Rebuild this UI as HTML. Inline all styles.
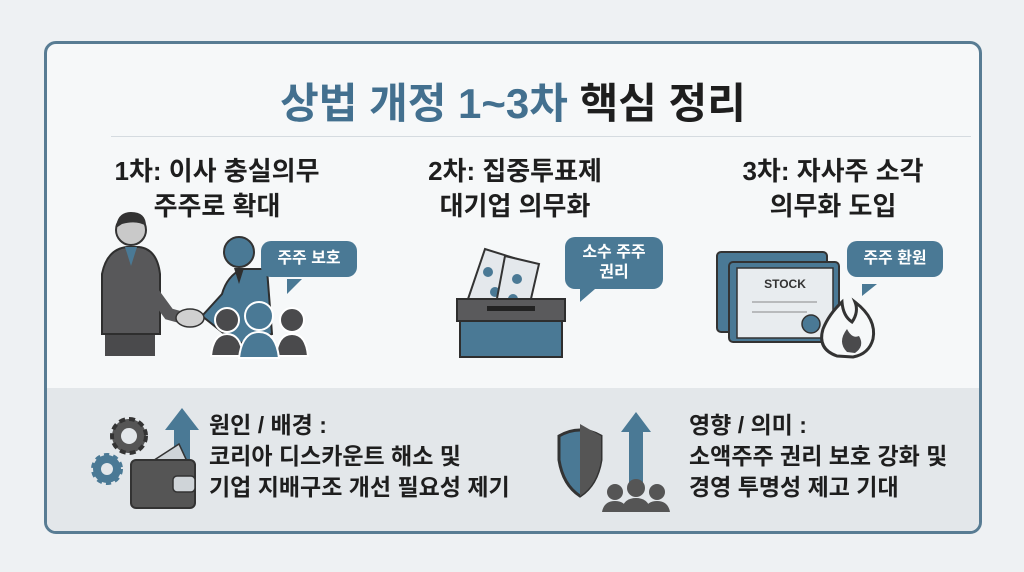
<!DOCTYPE html>
<html><head><meta charset="utf-8"><style>
body{margin:0;width:1024px;height:572px;background:#eef1f3;font-family:"Liberation Sans","Noto Sans CJK KR",sans-serif;position:relative;overflow:hidden}
.card{position:absolute;left:44px;top:41px;width:932px;height:487px;border:3px solid #587c93;border-radius:12px;background:#f6f8f9;overflow:hidden}
.t{position:absolute;font-weight:bold;color:#1e1e1e;text-align:center;white-space:nowrap}
.bot{position:absolute;left:0;top:344px;width:932px;height:143px;background:#e3e7ea}
.bub{position:absolute;background:#4a7995;color:#fff;font-weight:bold;font-size:16px;border-radius:10px;text-align:center;line-height:20px;padding:8px 0}
</style></head><body>
<div class="card">
<div class="t" style="left:0;width:932px;top:26px;font-size:42px;"><span style="color:#43708f">상법 개정 1~3차</span> 핵심 정리</div>
<div style="position:absolute;left:64px;top:92px;width:860px;height:1px;background:#d5dbe0"></div>
<div class="t" style="left:20px;width:300px;top:110px;font-size:26px;line-height:35px">1차: 이사 충실의무<br>주주로 확대</div>
<div class="t" style="left:318px;width:300px;top:110px;font-size:26px;line-height:35px">2차: 집중투표제<br>대기업 의무화</div>
<div class="t" style="left:636px;width:300px;top:110px;font-size:26px;line-height:35px">3차: 자사주 소각<br>의무화 도입</div>

<svg style="position:absolute;left:0;top:0" width="932" height="344">
<g>
<rect x="58" y="232" width="50" height="80" fill="#4a4a4c"/>
<path d="M55 230 Q60 205 80 203 L92 203 Q110 205 113 230 L113 290 L55 290Z" fill="#58585a" stroke="#2e2e2e" stroke-width="2"/>
<path d="M78 203 L84 222 L90 203Z" fill="#4a7995"/>
<circle cx="84" cy="186" r="15" fill="#c9c9c9" stroke="#333" stroke-width="2"/>
<path d="M69 184 Q70 168 84 168 Q99 168 99 182 Q90 176 75 180Z" fill="#333"/>
<path d="M100 240 L122 270 L140 275" stroke="#58585a" stroke-width="12" fill="none"/>
<path d="M155 272 L175 250 Q180 232 195 225 L220 225 L225 290 L190 300Z" fill="#4a7995" stroke="#2e2e2e" stroke-width="2"/>
<circle cx="192" cy="208" r="15" fill="#4a7995" stroke="#333" stroke-width="2"/>
<path d="M187 224 L192 240 L197 224Z" fill="#2e2e2e"/>
<ellipse cx="143" cy="274" rx="14" ry="9" fill="#d0d0d0" stroke="#333" stroke-width="1.5"/>
<circle cx="180" cy="276" r="12" fill="#4a4a4c" stroke="#fff" stroke-width="2"/>
<path d="M164 312 Q166 290 180 290 Q194 290 196 312Z" fill="#4a4a4c" stroke="#fff" stroke-width="2"/>
<circle cx="245" cy="276" r="12" fill="#4a4a4c" stroke="#fff" stroke-width="2"/>
<path d="M229 312 Q231 290 245 290 Q259 290 261 312Z" fill="#4a4a4c" stroke="#fff" stroke-width="2"/>
<circle cx="212" cy="272" r="14" fill="#4a7995" stroke="#fff" stroke-width="2"/>
<path d="M192 314 Q195 288 212 288 Q229 288 232 314Z" fill="#4a7995" stroke="#fff" stroke-width="2"/>
<path d="M240 235 L240 250 L255 235Z" fill="#4a7995"/>
</g>
<g>
<path d="M420 258 L438 205 L470 215 L452 268Z" fill="#e4e8ec" stroke="#333" stroke-width="2"/>
<circle cx="441" cy="228" r="5" fill="#4a7995"/><circle cx="448" cy="248" r="5" fill="#4a7995"/>
<path d="M448 265 L458 212 L492 220 L480 272Z" fill="#e4e8ec" stroke="#333" stroke-width="2"/>
<circle cx="470" cy="235" r="5" fill="#4a7995"/><circle cx="466" cy="255" r="5" fill="#4a7995"/>
<rect x="410" y="255" width="108" height="22" fill="#5a5a5c" stroke="#2e2e2e" stroke-width="2"/>
<rect x="440" y="262" width="48" height="5" fill="#222"/>
<rect x="413" y="277" width="102" height="36" fill="#4a7995" stroke="#2e2e2e" stroke-width="2"/>
<path d="M533 245 L533 258 L548 245Z" fill="#4a7995"/>
</g>
<g>
<rect x="670" y="208" width="110" height="80" rx="4" fill="#4a7995" stroke="#333" stroke-width="2"/>
<rect x="682" y="218" width="110" height="80" rx="4" fill="#4a7995" stroke="#333" stroke-width="2"/>
<rect x="690" y="224" width="96" height="70" fill="#e8ecef" stroke="#333" stroke-width="1.5"/>
<text x="738" y="244" font-size="12" font-weight="bold" text-anchor="middle" fill="#333" font-family="Liberation Sans">STOCK</text>
<line x1="705" y1="258" x2="770" y2="258" stroke="#888"/><line x1="705" y1="268" x2="760" y2="268" stroke="#888"/>
<circle cx="764" cy="280" r="9" fill="#4a7995" stroke="#333" stroke-width="1.5"/>
<path d="M790 312 Q770 305 776 285 Q782 270 795 258 Q796 272 805 278 Q812 268 808 258 Q830 275 826 295 Q822 310 806 313Z" fill="#f6f8f9" stroke="#333" stroke-width="3"/>
<path d="M800 308 Q790 298 800 285 Q805 295 812 292 Q818 302 808 309Z" fill="#4a4a4c"/>
<path d="M815 240 L815 252 L830 240Z" fill="#4a7995"/>
</g>
</svg>
<div class="bub" style="left:214px;top:197px;width:96px">주주 보호</div>
<div class="bub" style="left:518px;top:193px;width:98px;padding:6px 0">소수 주주<br>권리</div>
<div class="bub" style="left:800px;top:197px;width:96px">주주 환원</div>

<div class="bot">
<svg style="position:absolute;left:0;top:0" width="932" height="143">
<circle cx="82" cy="48" r="17" fill="#555" stroke="#333" stroke-width="4" stroke-dasharray="6 4"/><circle cx="82" cy="48" r="8" fill="#e3e7ea"/>
<circle cx="60" cy="81" r="14" fill="#4a7995" stroke="#4a7995" stroke-width="4" stroke-dasharray="5 4"/><circle cx="60" cy="81" r="6" fill="#e3e7ea"/>
<path d="M127 40 L143 40 L143 86 L127 86Z M118 42 L135 20 L152 42Z" fill="#4a7995"/>
<path d="M98 78 L132 56 L145 84Z" fill="#cfd4d8" stroke="#333" stroke-width="1.5"/>
<rect x="84" y="72" width="64" height="48" rx="5" fill="#555" stroke="#333" stroke-width="2"/>
<rect x="126" y="88" width="22" height="16" rx="4" fill="#cfd4d8" stroke="#333" stroke-width="1.5"/>
<path d="M512 48 Q533 36 554 48 L554 72 Q550 97 533 108 Q516 97 512 72Z" fill="#4a7995" stroke="#333" stroke-width="3"/>
<path d="M533 36 L554 48 L554 72 Q550 97 533 108Z" fill="#555"/>
<path d="M582 42 L596 42 L596 100 L582 100Z M574 44 L589 24 L604 44Z" fill="#4a7995"/>
<circle cx="589" cy="100" r="9" fill="#555"/><path d="M574 124 Q576 110 589 110 Q602 110 604 124Z" fill="#555"/>
<circle cx="568" cy="104" r="8" fill="#555"/><path d="M555 124 Q557 113 568 113 Q579 113 581 124Z" fill="#555"/>
<circle cx="610" cy="104" r="8" fill="#555"/><path d="M597 124 Q599 113 610 113 Q621 113 623 124Z" fill="#555"/>
</svg>
<div class="t" style="left:162px;top:22px;font-size:23px;line-height:31px;text-align:left">원인 / 배경 :<br>코리아 디스카운트 해소 및<br>기업 지배구조 개선 필요성 제기</div>
<div class="t" style="left:642px;top:22px;font-size:23px;line-height:31px;text-align:left">영향 / 의미 :<br>소액주주 권리 보호 강화 및<br>경영 투명성 제고 기대</div>
</div>
</div>
</body></html>
